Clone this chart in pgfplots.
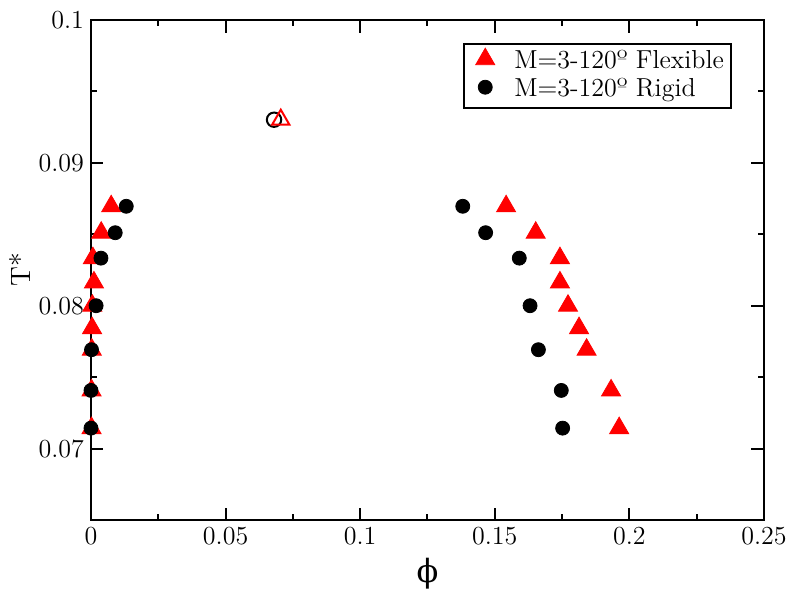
\documentclass[border=0pt]{standalone}
\usepackage{fontspec}
\newfontfamily\grk{DejaVu Serif}
\usepackage{pgfplots}
\pgfplotsset{compat=1.18}
\begin{document}
\begin{tikzpicture}
\useasboundingbox (-45.5pt,-38pt) rectangle (354.5pt,260pt);
\begin{axis}[
  at={(0pt,0pt)}, anchor=south west,
  scale only axis, width=336.5pt, height=250pt,
  xmin=0, xmax=0.25, ymin=0.065, ymax=0.1,
  clip=false, axis on top,
  xtick={0,0.05,0.1,0.15,0.2,0.25},
  xticklabels={0,0.05,0.1,0.15,0.2,0.25},
  ytick={0.07,0.08,0.09,0.1},
  yticklabels={0.07,0.08,0.09,0.1},
  minor x tick num=1, minor y tick num=1,
  tick pos=both, tick align=inside,
  major tick length=6.25pt, minor tick length=3pt,
  every tick/.style={black, line width=1pt},
  axis line style={line width=1pt},
  tick label style={font=\fontsize{13}{15}\selectfont},
  xticklabel style={anchor=base, yshift=-12pt},
  xlabel={\grk ϕ},
  xlabel style={at={([yshift=-31pt]axis description cs:0.5,0)}, anchor=base, font=\fontsize{16}{19}\selectfont},
  ylabel={T*},
  ylabel style={at={([xshift=-30pt]axis description cs:0,0.5)}, anchor=base, font=\fontsize{14}{16}\selectfont},
  legend style={at={(axis description cs:0.9525,0.954)}, anchor=north east,
    draw=black, line width=1pt, inner sep=2pt, column sep=0pt,
    font=\fontsize{13}{15}\selectfont,
    nodes={inner sep=1.5pt, text height=8.5pt, text depth=2.5pt, anchor=base west}},
  legend image code/.code={\path (-8pt,0pt) (12.5pt,0pt); \draw[#1, line width=0.4pt] plot coordinates {(0pt,4.4pt)};},
]
\addplot[only marks, mark=triangle*, mark size=5.5pt, draw=red, fill=red, mark options={line width=0.4pt}] coordinates {
(0.0075,0.08696) (0.0038,0.08511) (0.0007,0.08333) (0.0011,0.08163) (0.0005,0.08) (0.0004,0.07843) (0.0003,0.07692) (0.0002,0.07407) (0.0002,0.07143)
(0.1542,0.08696) (0.1652,0.08511) (0.1742,0.08333) (0.1742,0.08163) (0.1772,0.08) (0.1813,0.07843) (0.1841,0.07692) (0.1932,0.07407) (0.1962,0.07143)
};
\addlegendentry{M=3-120º Flexible}
\addplot[only marks, mark=*, mark size=3.5pt, draw=black, fill=black, mark options={line width=0.4pt}] coordinates {
(0.0131,0.08696) (0.0090,0.08511) (0.0037,0.08333) (0.0019,0.08) (0.0002,0.07692) (0,0.07407) (0,0.07143)
(0.1381,0.08696) (0.1466,0.08511) (0.1591,0.08333) (0.1631,0.08) (0.1662,0.07692) (0.1747,0.07407) (0.1752,0.07143)
};
\addlegendentry{M=3-120º Rigid}
\addplot[forget plot, only marks, mark=o, mark size=3.6pt, mark options={draw=black, line width=1pt}] coordinates {(0.068,0.09302)};
\addplot[forget plot, only marks, mark=triangle, mark size=5pt, mark options={draw=red, line width=1pt}] coordinates {(0.0705,0.09302)};
\end{axis}
\end{tikzpicture}
\end{document}
